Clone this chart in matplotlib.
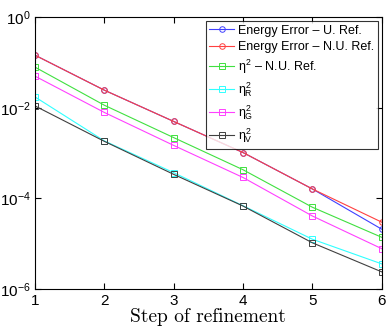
import matplotlib
matplotlib.use("Agg")
import matplotlib.pyplot as plt

steps = [1, 2, 3, 4, 5, 6]
err_u = [0.145, 0.0245, 0.0050, 0.00103, 0.000162, 0.000021]
err_nu = [0.145, 0.0245, 0.0050, 0.00103, 0.000162, 0.000030]
eta_nu = [0.079, 0.0114, 0.0022, 0.00043, 0.000064, 0.0000139]
eta_r = [0.0174, 0.00186, 0.00037, 0.000069, 0.0000126, 0.0000036]
eta_g = [0.050, 0.0079, 0.00148, 0.00029, 0.000041, 0.0000078]
eta_v = [0.011, 0.00182, 0.00034, 0.000068, 0.0000105, 0.0000024]

labels = ["Energy Error \u2013 U. Ref.", "Energy Error \u2013 N.U. Ref.",
          r"$\eta^2$" + " \u2013 N.U. Ref.", r"$\eta^2_R$", r"$\eta^2_G$", r"$\eta^2_V$"]

plt.rcParams['font.family'] = ['Liberation Sans', 'DejaVu Sans']
plt.rcParams['mathtext.fontset'] = 'custom'
plt.rcParams['mathtext.rm'] = 'Liberation Sans'
plt.rcParams['mathtext.it'] = 'Liberation Sans'

fig = plt.figure(figsize=(3.9, 3.3), dpi=100)
ax = fig.add_axes([0.0897, 0.124, 0.889, 0.824])

series = [(err_u, '#4040ff', 'o'), (err_nu, '#ff4040', 'o'),
          (eta_nu, '#40e040', 's'), (eta_r, '#30ffff', 's'),
          (eta_g, '#ff40ff', 's'), (eta_v, '#404040', 's')]
for (vals, col, mk), lab in zip(series, labels):
    ax.semilogy(steps, vals, color=col, marker=mk, markersize=4,
                markerfacecolor='none', markeredgewidth=0.7, linewidth=0.8,
                label=lab)

ax.set_xlim(1, 6)
ax.set_ylim(1e-6, 1)
ax.set_xticks(steps)
ax.set_yticks([1e0, 1e-2, 1e-4, 1e-6])
ax.minorticks_off()
ax.tick_params(direction='in', top=True, right=True, labelsize=11, length=4)
ax.tick_params(axis='y', pad=3)
ax.set_xlabel("Step of refinement", fontname='cmr10', fontsize=14, labelpad=0)

leg = ax.legend(loc='upper right', fontsize=9, fancybox=False, edgecolor='black',
                borderpad=0.3, labelspacing=0.35, handlelength=2.0,
                handletextpad=0.3, borderaxespad=0.3)
leg.get_frame().set_linewidth(0.8)

fig.savefig("out.png", dpi=100)
